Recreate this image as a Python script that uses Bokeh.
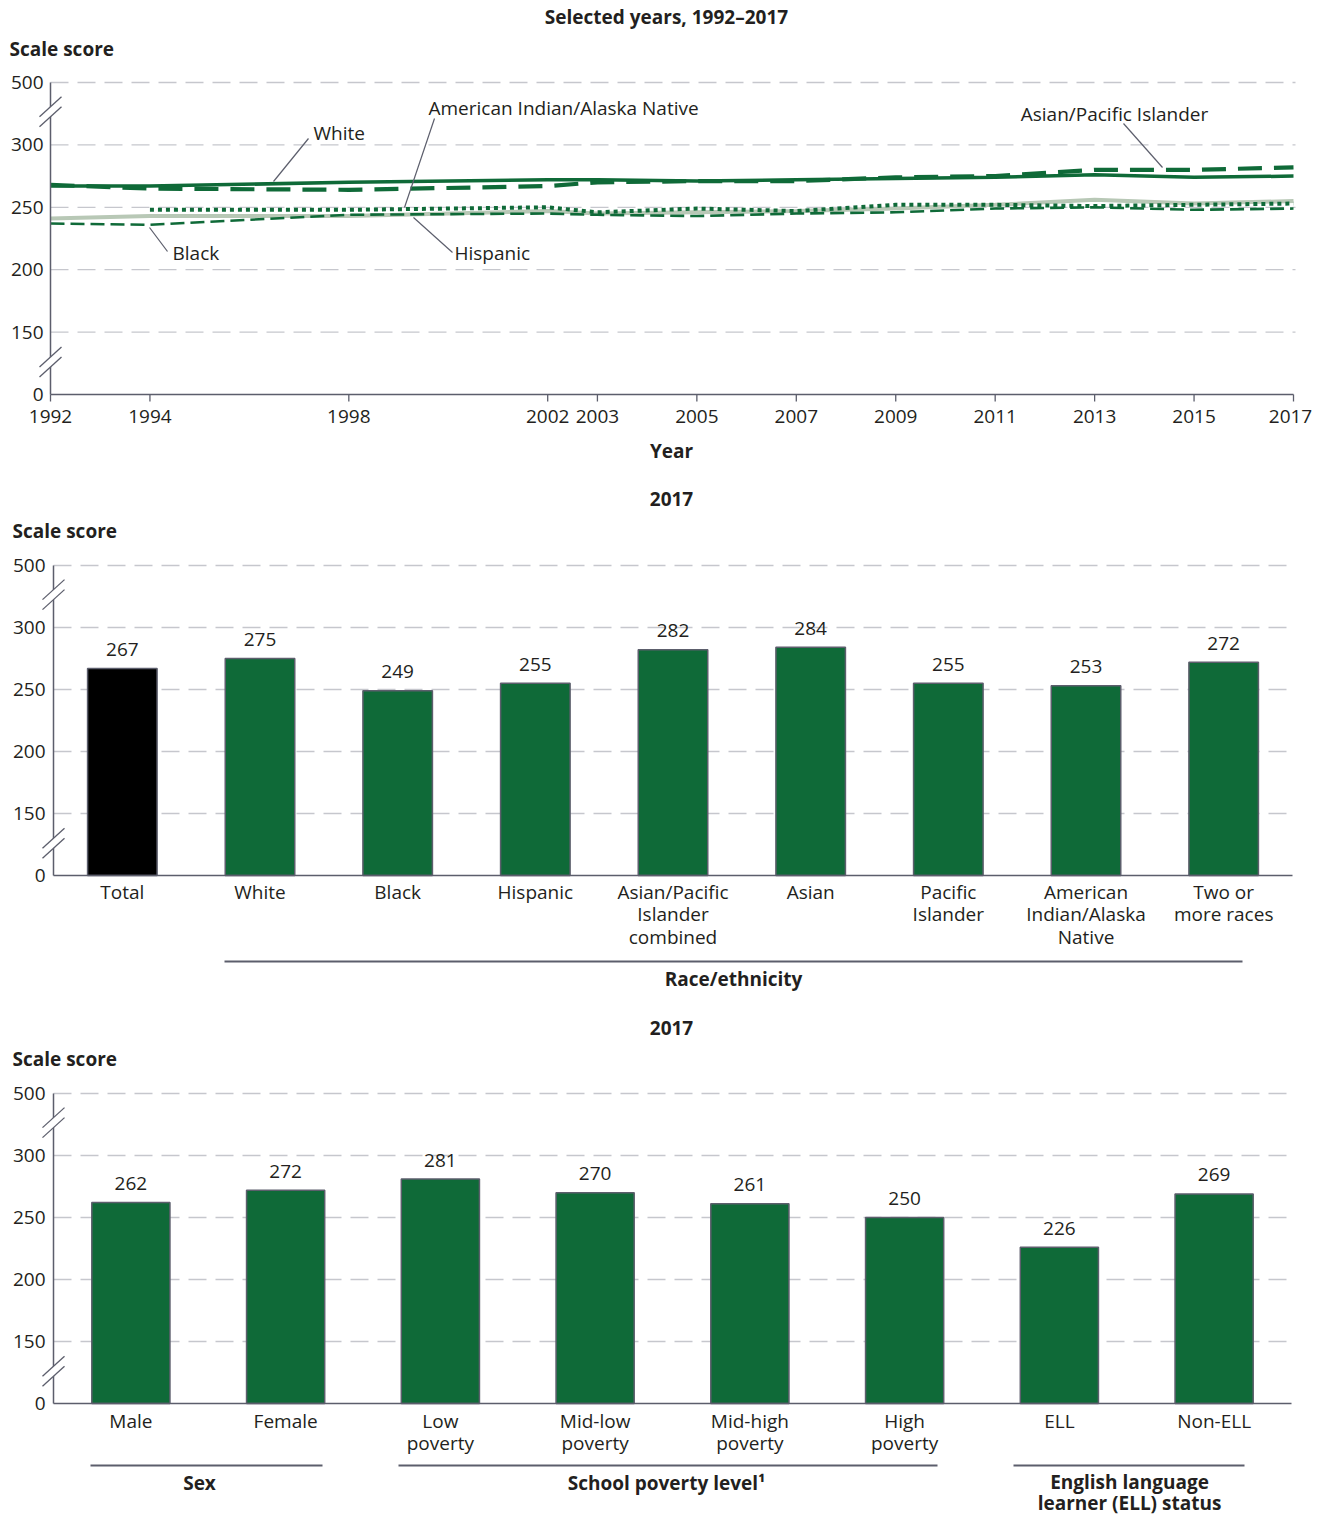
import numpy as np
from bokeh.plotting import figure
from bokeh.layouts import column
from bokeh.models import Range1d
from bokeh.embed import file_html
from bokeh.resources import INLINE
from bokeh.core.properties import value

# ---------------- data ----------------
years = [1992, 1994, 1998, 2002, 2003, 2005, 2007, 2009, 2011, 2013, 2015, 2017]
white = [267, 267, 270, 272, 272, 271, 272, 273, 274, 276, 274, 275]
black = [237, 236, 244, 245, 244, 243, 245, 246, 249, 250, 248, 249]
hispanic = [241, 243, 243, 247, 245, 246, 247, 249, 252, 256, 253, 255]
asian_pacific = [268, 265, 264, 267, 270, 271, 271, 274, 275, 280, 280, 282]
aian_years = [1994, 1998, 2002, 2003, 2005, 2007, 2009, 2011, 2013, 2015, 2017]
aian = [248, 248, 250, 246, 249, 247, 252, 252, 251, 252, 253]

race_categories = ["Total", "White", "Black", "Hispanic", "Asian/Pacific Islander combined",
                   "Asian", "Pacific Islander", "American Indian/Alaska Native", "Two or more races"]
race_labels = ["Total", "White", "Black", "Hispanic", "Asian/Pacific\nIslander\ncombined",
               "Asian", "Pacific\nIslander", "American\nIndian/Alaska\nNative", "Two or\nmore races"]
race_scores = [267, 275, 249, 255, 282, 284, 255, 253, 272]

group_categories = ["Male", "Female", "Low poverty", "Mid-low poverty", "Mid-high poverty",
                    "High poverty", "ELL", "Non-ELL"]
group_labels = ["Male", "Female", "Low\npoverty", "Mid-low\npoverty", "Mid-high\npoverty",
                "High\npoverty", "ELL", "Non-ELL"]
group_scores = [262, 272, 281, 270, 261, 250, 226, 269]

y_tick_values = [0, 150, 200, 250, 300, 500]
year_ticks = [1992, 1994, 1998, 2002, 2003, 2005, 2007, 2009, 2011, 2013, 2015, 2017]

# ---------------- style ----------------
FONT = "Open Sans"
FS = "19px"
GREEN = "#0f6a38"
LIGHT = "#b8c8b6"
AXIS = "#5c5e6c"
GRID = "#c6c7cd"
TXT = "#231f20"
W = 1325
PAGE_LEFT = 0
LINE_STEP = 22.5


def pos(v):
    """Broken scale: equal spacing between 0,150,200,250,300,500."""
    return np.interp(np.asarray(v, dtype=float), y_tick_values, np.arange(len(y_tick_values)))


class Panel:
    def __init__(self, page_top, page_bottom, ax_px, ax_val, xu, y0_px, yu):
        self.ax_px, self.ax_val, self.xu = ax_px, ax_val, xu
        self.y0_px, self.yu = y0_px, yu
        self.p = figure(width=W, height=page_bottom - page_top,
                        x_range=Range1d(self.dx(PAGE_LEFT), self.dx(PAGE_LEFT + W)),
                        y_range=Range1d(self.dy(page_bottom), self.dy(page_top)),
                        x_axis_location=None, y_axis_location=None,
                        output_backend="svg", toolbar_location=None, min_border=0,
                        background_fill_color="white", border_fill_color="white")
        self.p.title.visible = False
        self.p.outline_line_color = None
        self.p.grid.visible = False

    def dx(self, px):
        return self.ax_val + (px - self.ax_px) / self.xu

    def dy(self, py):
        return (self.y0_px - py) / self.yu

    def py(self, d):
        return self.y0_px - d * self.yu

    def text(self, xs_px, ys_px, texts, align="center", bold=False, color=TXT, size=FS):
        self.p.text(x=[self.dx(v) for v in xs_px], y=[self.dy(v) for v in ys_px], text=texts,
                    text_font=value(FONT), text_font_size=size,
                    text_font_style="bold" if bold else "normal",
                    text_align=align, text_baseline="middle", text_color=color)

    def multiline(self, xs, first_py, labels, bold=False, step=LINE_STEP):
        """xs in data units; each label split into lines stacked downward."""
        lx, ly, lt = [], [], []
        for x, lab in zip(xs, labels):
            for k, line in enumerate(lab.split("\n")):
                lx.append(x)
                ly.append(self.dy(first_py + k * step))
                lt.append(line)
        self.p.text(x=lx, y=ly, text=lt, text_font=value(FONT), text_font_size=FS,
                    text_font_style="bold" if bold else "normal",
                    text_align="center", text_baseline="middle", text_color=TXT)

    def hline_px(self, x0, x1, y, color=AXIS, width=2.0):
        self.p.segment(x0=[self.dx(x0)], y0=[self.dy(y)], x1=[self.dx(x1)], y1=[self.dy(y)],
                       line_color=color, line_width=width)

    def seg_px(self, x0, y0, x1, y1, color=AXIS, width=1.2):
        self.p.segment(x0=[self.dx(x0)], y0=[self.dy(y0)], x1=[self.dx(x1)], y1=[self.dy(y1)],
                       line_color=color, line_width=width)

    def grid(self, x_end_px):
        levels = pos(y_tick_values[1:])
        self.p.segment(x0=[self.ax_val] * len(levels), y0=levels,
                       x1=[self.dx(x_end_px)] * len(levels), y1=levels,
                       line_color=GRID, line_width=1.3, line_dash="18 9")

    def y_axis(self, label_right_px):
        self.p.segment(x0=[self.ax_val], y0=[0], x1=[self.ax_val], y1=[pos(500)],
                       line_color=AXIS, line_width=1.5)
        self.p.text(x=[self.dx(label_right_px)] * len(y_tick_values), y=pos(y_tick_values),
                    text=[str(v) for v in y_tick_values], text_font=value(FONT), text_font_size=FS,
                    text_align="right", text_baseline="middle", text_color=TXT)

    def break_mark(self, pos_center):
        cx = self.ax_px
        cy = self.py(pos_center)
        xs = [cx - 11, cx + 11, cx + 11, cx - 11]
        ys = [cy + 5, cy - 15, cy - 5, cy + 15]
        self.p.patch([self.dx(x) for x in xs], [self.dy(y) for y in ys],
                     fill_color="white", line_color=None)
        self.seg_px(cx - 11, cy + 5, cx + 11, cy - 15, width=1.3)
        self.seg_px(cx - 11, cy + 15, cx + 11, cy - 5, width=1.3)


# ================= Panel 1: trend lines =================
P1 = Panel(0, 474, ax_px=50, ax_val=1992, xu=(1293 - 50) / 25.0, y0_px=394, yu=62.4)
p1 = P1.p
P1.grid(1295)

p1.line(years, pos(hispanic), line_color=LIGHT, line_width=4)
p1.line(years, pos(black), line_color=GREEN, line_width=2.6, line_dash="14 6")
p1.line(aian_years, pos(aian), line_color=GREEN, line_width=4, line_dash="4 4", line_cap="butt")
p1.line(years, pos(white), line_color=GREEN, line_width=3.5)
p1.line(years, pos(asian_pacific), line_color=GREEN, line_width=4.2, line_dash="24 12")

# axes
P1.y_axis(43)
p1.segment(x0=[1992], y0=[0], x1=[2017], y1=[0], line_color=AXIS, line_width=1.5)
p1.segment(x0=year_ticks, y0=[0] * len(year_ticks), x1=year_ticks,
           y1=[P1.dy(401)] * len(year_ticks), line_color=AXIS, line_width=1.3)
p1.text(x=year_ticks[:-1], y=[P1.dy(416)] * (len(year_ticks) - 1),
        text=[str(y) for y in year_ticks[:-1]],
        text_font=value(FONT), text_font_size=FS, text_align="center", text_baseline="middle",
        text_color=TXT)
p1.text(x=year_ticks[-1:], y=[P1.dy(416)], text=[str(year_ticks[-1])], x_offset=-3,
        text_font=value(FONT), text_font_size=FS, text_align="center", text_baseline="middle",
        text_color=TXT)
P1.break_mark(4.53)
P1.break_mark(0.52)

# line labels with leader lines
P1.seg_px(273, 181, 308, 138)
P1.text([313], [132], ["White"], align="left")
P1.seg_px(404, 207, 434, 118)
P1.text([428], [107], ["American Indian/Alaska Native"], align="left")
P1.seg_px(1162, 167, 1123, 123)
P1.text([1114], [113], ["Asian/Pacific Islander"], align="center")
P1.seg_px(149, 227, 167, 251)
P1.text([172], [252], ["Black"], align="left")
P1.seg_px(413, 217, 452, 252)
P1.text([454], [252], ["Hispanic"], align="left")

# titles
P1.text([666], [16], ["Selected years, 1992\u20132017"], bold=True)
P1.text([9], [48], ["Scale score"], align="left", bold=True)
P1.text([671], [450], ["Year"], bold=True)

# ================= Panel 2: race/ethnicity bars =================
P2 = Panel(474, 1000, ax_px=53, ax_val=0, xu=(1292 - 53) / 9.0, y0_px=875, yu=62.0)
p2 = P2.p
P2.grid(1287)
rx = np.arange(len(race_categories)) + 0.5
race_colors = ["#000000"] + [GREEN] * (len(race_categories) - 1)
p2.vbar(x=rx, top=pos(race_scores), bottom=0, width=0.505, fill_color=race_colors,
        line_color=AXIS, line_width=1.5)
p2.text(x=rx, y=pos(race_scores), text=[str(v) for v in race_scores], y_offset=-19,
        text_font=value(FONT), text_font_size=FS, text_align="center", text_baseline="middle",
        text_color=TXT)
P2.y_axis(45)
p2.segment(x0=[0], y0=[0], x1=[len(race_categories)], y1=[0], line_color=AXIS, line_width=1.5)
P2.break_mark(4.53)
P2.break_mark(0.52)
P2.multiline(rx, 891, race_labels)
P2.hline_px(224, 1242, 961)
P2.text([733], [978], ["Race/ethnicity"], bold=True)
P2.text([671], [498], ["2017"], bold=True)
P2.text([12], [530], ["Scale score"], align="left", bold=True)

# ================= Panel 3: other groups =================
P3 = Panel(1000, 1517, ax_px=53, ax_val=0, xu=(1291 - 53) / 8.0, y0_px=1403, yu=62.0)
p3 = P3.p
P3.grid(1287)
gx = np.arange(len(group_categories)) + 0.5
p3.vbar(x=gx, top=pos(group_scores), bottom=0, width=0.505, fill_color=GREEN,
        line_color=AXIS, line_width=1.5)
p3.text(x=gx, y=pos(group_scores), text=[str(v) for v in group_scores], y_offset=-19,
        text_font=value(FONT), text_font_size=FS, text_align="center", text_baseline="middle",
        text_color=TXT)
P3.y_axis(45)
p3.segment(x0=[0], y0=[0], x1=[len(group_categories)], y1=[0], line_color=AXIS, line_width=1.5)
P3.break_mark(4.53)
P3.break_mark(0.52)
P3.multiline(gx, 1420, group_labels)
P3.hline_px(90, 322, 1465)
P3.hline_px(398, 937, 1465)
P3.hline_px(1013, 1244, 1465)
P3.text([199], [1482], ["Sex"], bold=True)
P3.text([666], [1482], ["School poverty level\u00b9"], bold=True)
P3.multiline([P3.dx(1129)], 1481, ["English language\nlearner (ELL) status"], bold=True, step=21)
P3.text([671], [1027], ["2017"], bold=True)
P3.text([12], [1058], ["Scale score"], align="left", bold=True)

layout = column(p1, p2, p3, spacing=0)
open("out.html", "w").write(file_html(layout, INLINE))
